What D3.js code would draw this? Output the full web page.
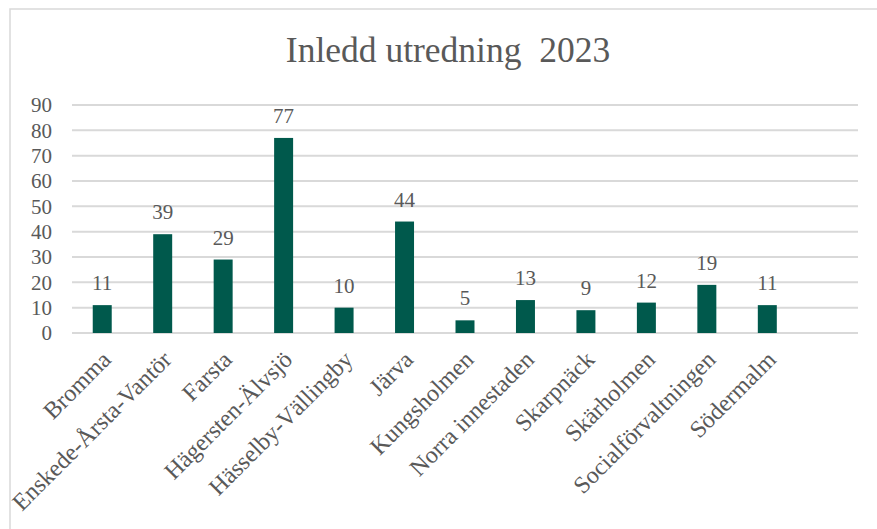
<!DOCTYPE html>
<html>
<head>
<meta charset="utf-8">
<script src="https://cdn.jsdelivr.net/npm/d3@7"></script>
<style>
  body { margin: 0; background: #fff; }
  text { font-family: "Liberation Serif", "Times New Roman", serif; fill: #595959; }
</style>
</head>
<body>
<script>
const w = 877;
const h = 529;

// data
const districts = ['Bromma', 'Enskede-Årsta-Vantör', 'Farsta', 'Hägersten-Älvsjö', 'Hässelby-Vällingby', 'Järva',
  'Kungsholmen', 'Norra innestaden', 'Skarpnäck', 'Skärholmen', 'Socialförvaltningen', 'Södermalm', ''];
const counts = [11, 39, 29, 77, 10, 44, 5, 13, 9, 12, 19, 11];
const yTicks = [0, 10, 20, 30, 40, 50, 60, 70, 80, 90];
const title = 'Inledd utredning\u00a0 2023';

const svg = d3.select('body').append('svg').attr('width', w).attr('height', h)

// chart frame + clip
svg.append('clipPath').attr('id', 'frame').append('rect')
  .attr('x', 10).attr('y', 9).attr('width', 900).attr('height', 560)
svg.append('rect').attr('x', 10).attr('y', 9).attr('width', 900).attr('height', 560)
  .attr('fill', '#fff').attr('stroke', '#d9d9d9').attr('stroke-width', 1.5)

const g = svg.append('g').attr('clip-path', 'url(#frame)')

g.append('text').attr('x', 448).attr('y', 62).attr('text-anchor', 'middle')
  .style('font-size', '35.5px').text(title)

const x = d3.scaleBand().domain(districts).range([72, 858]).paddingInner(0.686).paddingOuter(0.343)
const y = d3.scaleLinear().domain([0, 90]).range([333, 105])

// gridlines
g.append('g').selectAll('line').data(yTicks).enter().append('line')
  .attr('x1', 72).attr('x2', 858)
  .attr('y1', d => y(d)).attr('y2', d => y(d))
  .attr('stroke', '#d9d9d9').attr('stroke-width', 2)

// y axis labels
const yAxis = g.append('g').attr('transform', 'translate(58,0)')
  .call(d3.axisLeft(y).tickValues(yTicks).tickSize(0).tickPadding(6))
yAxis.select('.domain').remove()
yAxis.selectAll('text').style('font-size', '21px').style('font-family', '"Liberation Serif", serif').attr('fill', '#595959')

// bars
g.selectAll('.bar').data(counts).enter().append('rect')
  .attr('class', 'bar')
  .attr('x', (d, i) => x(districts[i]))
  .attr('y', d => y(d))
  .attr('width', x.bandwidth())
  .attr('height', d => y(0) - y(d))
  .attr('fill', '#00594c')

// value labels
g.selectAll('.val').data(counts).enter().append('text')
  .attr('class', 'val')
  .attr('x', (d, i) => x(districts[i]) + x.bandwidth() / 2)
  .attr('y', d => y(d) - 15)
  .attr('text-anchor', 'middle')
  .style('font-size', '21px')
  .text(d => d)

// category labels
const xAxis = g.append('g').attr('transform', 'translate(0,333)')
  .call(d3.axisBottom(x).tickSize(0).tickPadding(0))
xAxis.select('.domain').remove()
xAxis.selectAll('text')
  .style('font-size', '24px').style('font-family', '"Liberation Serif", serif').attr('fill', '#595959')
  .attr('text-anchor', 'end')
  .attr('dy', '0.3em')
  .attr('transform', 'translate(5,23) rotate(-45)')
</script>
</body>
</html>
